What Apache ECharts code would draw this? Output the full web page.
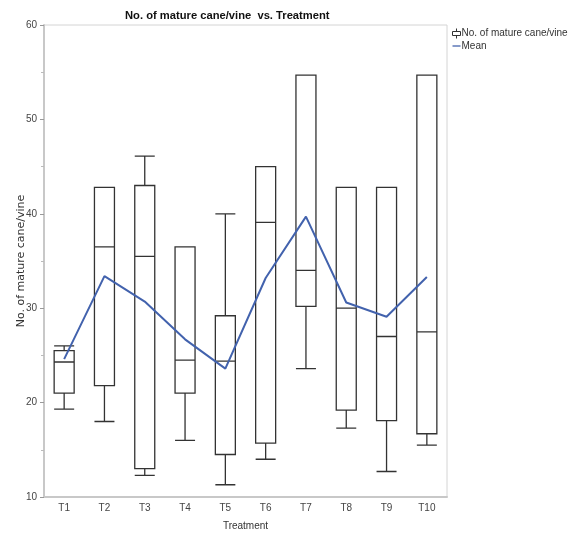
<!DOCTYPE html>
<html>
<head>
<meta charset="utf-8">
<script src="https://cdn.jsdelivr.net/npm/echarts@6/dist/echarts.min.js"></script>
<style>
html,body{margin:0;padding:0;background:#fff;}
#chart{width:569px;height:536px;}
</style>
</head>
<body>
<div id="chart"></div>
<script>
var categories = ['T1','T2','T3','T4','T5','T6','T7','T8','T9','T10'];
var minVals    = [19.3, 18.0, 12.3, 16.0, 11.3, 14.0, 23.6, 17.3, 12.7, 15.5];
var q1Vals     = [21.0, 21.8, 13.0, 21.0, 14.5, 15.7, 30.2, 19.2, 18.1, 16.7];
var medianVals = [24.3, 36.5, 35.5, 24.5, 24.4, 39.1, 34.0, 30.0, 27.0, 27.5];
var q3Vals     = [25.5, 42.8, 43.0, 36.5, 29.2, 45.0, 54.7, 42.8, 42.8, 54.7];
var maxVals    = [26.0, 42.8, 46.1, 36.5, 40.0, 45.0, 54.7, 42.8, 42.8, 54.7];
var meanVals   = [24.6, 33.4, 30.7, 26.7, 23.6, 33.2, 39.7, 30.6, 29.1, 33.3];
var yTicks = [10, 20, 30, 40, 50, 60];

var boxData = categories.map(function(c, i){
  return [minVals[i], q1Vals[i], medianVals[i], q3Vals[i], maxVals[i]];
});

var sans = "'Liberation Sans',Arial,sans-serif";

var chart = echarts.init(document.getElementById('chart'), null, {renderer:'canvas'});
chart.setOption({
  animation: false,
  backgroundColor: '#fff',
  title: {
    text: 'No. of mature cane/vine  vs. Treatment',
    left: 120, top: 5,
    textStyle: {fontFamily: sans, fontWeight: 'bold', fontSize: 11.2, color: '#111'}
  },
  legend: {
    orient: 'vertical',
    left: 452, top: 28,
    padding: 0,
    itemGap: 2,
    itemWidth: 8, itemHeight: 10,
    textStyle: {fontFamily: sans, fontSize: 10, color: '#333', padding: [0,0,0,-4]},
    data: [
      {name: 'No. of mature cane/vine',
       icon: 'path://M5,0 L5,3 M1,3 L9,3 L9,7 L1,7 Z M5,7 L5,10',
       itemStyle: {color: 'transparent', borderColor: '#333', borderWidth: 1}},
      {name: 'Mean',
       icon: 'path://M0,0 L0,0 M0,4.2 L10,4.2 L10,5.8 L0,5.8 Z M10,10 L10,10',
       itemStyle: {color: '#4262ad', borderWidth: 0}}
    ]
  },
  grid: {
    left: 44, right: 122, top: 25, bottom: 36,
    show: true, borderColor: '#d4d4d4', borderWidth: 1
  },
  xAxis: {
    type: 'category',
    data: categories,
    boundaryGap: true,
    name: 'Treatment',
    nameLocation: 'middle',
    nameGap: 24,
    nameTextStyle: {fontFamily: sans, fontSize: 10, color: '#333'},
    axisLine: {lineStyle: {color: '#c8c8c8', width: 2}},
    axisTick: {show: false},
    axisLabel: {fontFamily: sans, fontSize: 10, color: '#444', margin: 6},
    splitLine: {show: false}
  },
  yAxis: {
    type: 'value',
    min: yTicks[0], max: yTicks[yTicks.length-1], interval: 10,
    name: 'No. of mature cane/vine',
    nameLocation: 'middle',
    nameGap: 17,
    nameMoveOverlap: false,
    nameTextStyle: {fontFamily: "'DejaVu Sans',sans-serif", fontSize: 11, color: '#333'},
    axisLine: {show: true, lineStyle: {color: '#c8c8c8', width: 2}},
    axisTick: {show: true, length: 4, lineStyle: {color: '#999'}},
    minorTick: {show: true, splitNumber: 2, length: 3, lineStyle: {color: '#bbb'}},
    axisLabel: {fontFamily: sans, fontSize: 10, color: '#444', margin: 7},
    splitLine: {show: false}
  },
  series: [
    {
      name: 'No. of mature cane/vine',
      type: 'boxplot',
      data: boxData,
      boxWidth: [20, 20],
      itemStyle: {color: '#fff', borderColor: '#333', borderWidth: 1.3},
      emphasis: {disabled: true},
      z: 2
    },
    {
      name: 'Mean',
      type: 'line',
      data: meanVals,
      symbol: 'none',
      lineStyle: {color: '#4262ad', width: 2},
      itemStyle: {color: '#4262ad'},
      z: 3
    }
  ]
});
</script>
</body>
</html>
